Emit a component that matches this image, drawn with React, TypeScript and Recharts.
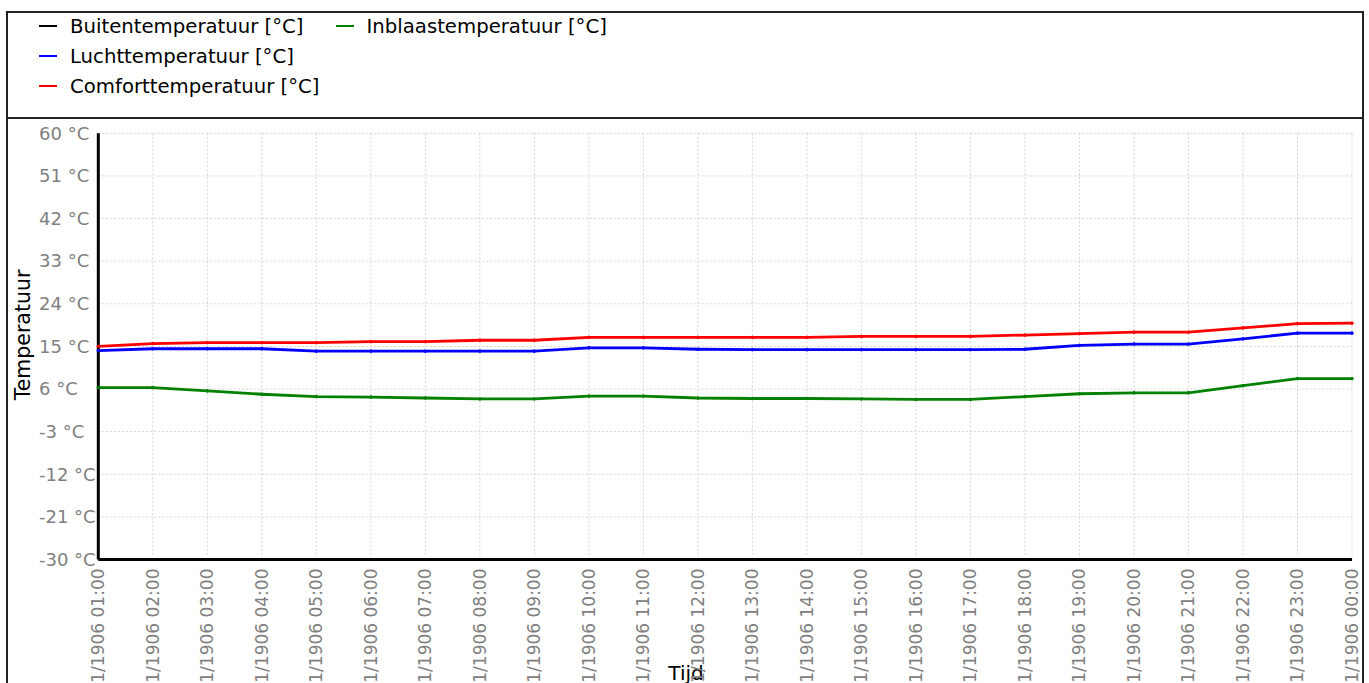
import React from "react";
import { LineChart, Line, XAxis, YAxis, CartesianGrid, Label } from "recharts";

// tijdstippen (uur) en datum per tijdstip
const hours = [
  "01:00", "02:00", "03:00", "04:00", "05:00", "06:00", "07:00", "08:00",
  "09:00", "10:00", "11:00", "12:00", "13:00", "14:00", "15:00", "16:00",
  "17:00", "18:00", "19:00", "20:00", "21:00", "22:00", "23:00", "00:00",
];
const dates = [
  "1/1/1906", "1/1/1906", "1/1/1906", "1/1/1906", "1/1/1906", "1/1/1906",
  "1/1/1906", "1/1/1906", "1/1/1906", "1/1/1906", "1/1/1906", "1/1/1906",
  "1/1/1906", "1/1/1906", "1/1/1906", "1/1/1906", "1/1/1906", "1/1/1906",
  "1/1/1906", "1/1/1906", "1/1/1906", "1/1/1906", "1/1/1906", "2/1/1906",
];

// Buitentemperatuur heeft geen meetwaarden in deze grafiek
const luchtTemp = [
  14.1, 14.5, 14.5, 14.5, 14.0, 14.0, 14.0, 14.0, 14.0, 14.7, 14.7, 14.4,
  14.3, 14.3, 14.3, 14.3, 14.3, 14.4, 15.2, 15.5, 15.5, 16.6, 17.8, 17.8,
];
const comfortTemp = [
  15.0, 15.6, 15.8, 15.8, 15.8, 16.0, 16.0, 16.3, 16.3, 16.9, 16.9, 16.9,
  16.9, 16.9, 17.1, 17.1, 17.1, 17.4, 17.7, 18.0, 18.0, 18.9, 19.8, 19.9,
];
const inblaasTemp = [
  6.3, 6.3, 5.6, 4.9, 4.4, 4.3, 4.1, 3.9, 3.9, 4.5, 4.5, 4.1,
  4.0, 4.0, 3.9, 3.8, 3.8, 4.4, 5.0, 5.2, 5.2, 6.7, 8.2, 8.2,
];

const yTicks = [-30, -21, -12, -3, 6, 15, 24, 33, 42, 51, 60];

const series = [
  { key: "buiten", name: "Buitentemperatuur [°C]", color: "#000000" },
  { key: "lucht", name: "Luchttemperatuur [°C]", color: "#0000ff" },
  { key: "comfort", name: "Comforttemperatuur [°C]", color: "#ff0000" },
  { key: "inblaas", name: "Inblaastemperatuur [°C]", color: "#008000" },
];

const data = hours.map((h, i) => ({
  time: h,
  date: dates[i],
  lucht: luchtTemp[i],
  comfort: comfortTemp[i],
  inblaas: inblaasTemp[i],
}));

const FONT = "DejaVu Sans";

const XTick = (props: any) => {
  const { x, y, payload } = props;
  return (
    <text
      x={x}
      y={y}
      dy="0.35em"
      textAnchor="end"
      transform={`rotate(-90, ${x}, ${y})`}
      fill="#808080"
      fontSize={17}
      fontFamily={FONT}
    >
      {`${dates[payload.index]} ${payload.value}`}
    </text>
  );
};

const YTick = (props: any) => {
  const { y, payload } = props;
  return (
    <text x={39} y={y} dy="0.35em" textAnchor="start" fill="#808080" fontSize={18} fontFamily={FONT}>
      {`${payload.value} °C`}
    </text>
  );
};

const ChartLegend = () => (
  <div
    style={{
      position: "absolute",
      left: 39,
      top: 11,
      height: 90,
      display: "flex",
      flexDirection: "column",
      flexWrap: "wrap",
      alignContent: "flex-start",
      fontFamily: FONT,
      fontSize: 19.7,
      color: "#000",
    }}
  >
    {series.map((s) => (
      <div key={s.key} style={{ width: 296.5, height: 30, display: "flex", alignItems: "center" }}>
        <span style={{ display: "inline-block", width: 18, height: 1.5, background: s.color, marginRight: 13 }} />
        <span>{s.name}</span>
      </div>
    ))}
  </div>
);

export default function App() {
  return (
    <div style={{ position: "absolute", left: 0, top: 0, width: 1369, height: 683, overflow: "hidden", background: "#fff" }}>
      <div
        style={{
          position: "absolute",
          left: 6,
          top: 11,
          width: 1358,
          height: 700,
          border: "2px solid #222",
          boxSizing: "border-box",
        }}
      />
      <div style={{ position: "absolute", left: 6, top: 117, width: 1358, height: 2, background: "#222" }} />
      <ChartLegend />
      <div style={{ position: "absolute", left: 0, top: 0 }}>
        <LineChart
          width={1369}
          height={683}
          data={data}
          margin={{ top: 133.3, right: 17, bottom: 23.5, left: 38.3 }}
        >
          <CartesianGrid stroke="#d4d4d4" strokeDasharray="2 2" />
          <XAxis
            dataKey="time"
            interval={0}
            height={100}
            tick={<XTick />}
            tickLine={false}
            tickSize={0}
            tickMargin={9}
            axisLine={{ stroke: "#000", strokeWidth: 3 }}
          >
            <Label
              content={() => (
                <text x={686} y={680} textAnchor="middle" fill="#000" fontSize={20} fontFamily={FONT}>
                  Tijd
                </text>
              )}
            />
          </XAxis>
          <YAxis
            type="number"
            domain={[-30, 60]}
            ticks={yTicks}
            width={60}
            tick={<YTick />}
            tickLine={false}
            axisLine={{ stroke: "#000", strokeWidth: 3 }}
            allowDataOverflow
          >
            <Label
              content={() => (
                <text
                  x={23}
                  y={335}
                  dy="0.35em"
                  textAnchor="middle"
                  transform="rotate(-90, 23, 335)"
                  fill="#000"
                  fontSize={20.5}
                  fontFamily={FONT}
                >
                  Temperatuur
                </text>
              )}
            />
          </YAxis>
          {series.map((s) => (
            <Line
              key={s.key}
              type="linear"
              dataKey={s.key}
              name={s.name}
              stroke={s.color}
              strokeWidth={2.8}
              dot={{ r: 1.3, fill: s.color, stroke: s.color, strokeWidth: 1 }}
              activeDot={false}
              isAnimationActive={false}
            />
          ))}
        </LineChart>
      </div>
    </div>
  );
}
